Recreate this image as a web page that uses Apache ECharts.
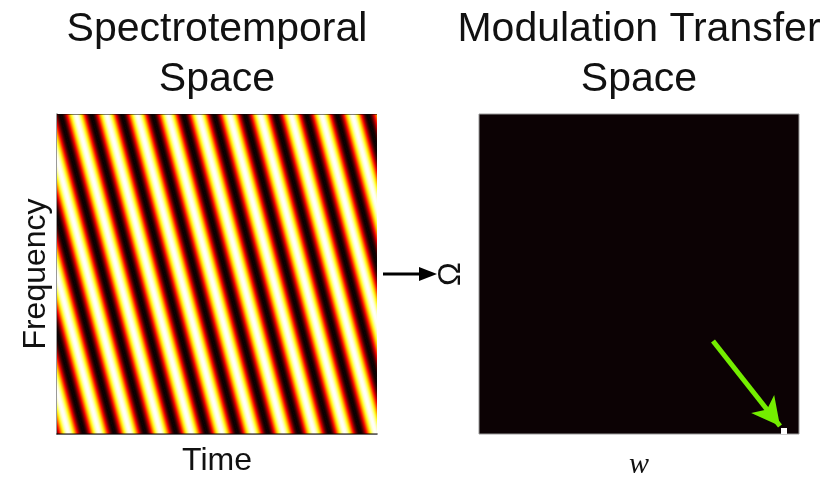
<!DOCTYPE html>
<html><head><meta charset="utf-8">
<script src="https://cdn.jsdelivr.net/npm/echarts@6/dist/echarts.min.js"></script>
<style>html,body{margin:0;padding:0;background:#fff}#c{width:835px;height:479px}</style>
</head><body><div id="c"></div>
<script>
// ---- Left panel: bright ridges of the ripple (Time and Frequency axes, 0-100 units)
const ridgeTimeAtTop    = [-22.9, -13.3, -3.7, 5.9, 15.5, 25.1, 34.7, 44.3, 53.9, 63.5, 73.1, 82.7, 92.3, 101.9];
const ridgeTimeAtBottom = [3.6, 13.2, 22.8, 32.4, 42.0, 51.6, 61.2, 70.8, 80.4, 90.0, 99.6, 109.2, 118.8, 128.4];
const ridgePeriod = 9.6;
// ---- Right panel: modulation transfer space (w and Omega axes, 0-64 units)
const mtfPeakW = [60.4];
const mtfPeakOmega = [0];
const mtfPeakValue = [1];
const mtfPeakSize = 1.2;
const greenArrowFrom = [46.8, 18.6];
const greenArrowTo = [60.2, 1.6];
// ---- Text
const panelTitles = ['Spectrotemporal\nSpace', 'Modulation Transfer\nSpace'];
const axisNames = { time: 'Time', freq: 'Frequency', w: 'w', omega: 'Ω' };

// "hot" colour profile across one period (black -> red -> yellow -> white -> ... -> black)
const hotStops = [
  [0.00, '#0a0000'], [0.05, '#150000'], [0.10, '#430000'], [0.15, '#900000'],
  [0.20, '#f10000'], [0.25, '#ff5a00'], [0.30, '#ffc200'], [0.35, '#ffff30'],
  [0.40, '#ffffa0'], [0.45, '#ffffe7'], [0.50, '#ffffff']
];
const gradStops = hotStops.map(s => ({offset: s[0], color: s[1]}))
  .concat(hotStops.slice(0, -1).reverse().map(s => ({offset: 1 - s[0], color: s[1]})));

const sans = '"Liberation Sans", Arial, Helvetica, sans-serif';
const chart = echarts.init(document.getElementById('c'), null, {renderer: 'canvas'});

const hiddenAxis = {show: true, axisTick: {show: false}, axisLabel: {show: false}, splitLine: {show: false}};

chart.setOption({
  animation: false,
  backgroundColor: '#ffffff',
  title: [
    {text: panelTitles[0], left: 217, top: 5, padding: 0, textAlign: 'center',
     textStyle: {fontFamily: sans, fontSize: 41, fontWeight: 'normal', color: '#111', lineHeight: 50}},
    {text: panelTitles[1], left: 639, top: 5, padding: 0, textAlign: 'center',
     textStyle: {fontFamily: sans, fontSize: 41, fontWeight: 'normal', color: '#111', lineHeight: 50}}
  ],
  grid: [
    {left: 57, top: 114, width: 320, height: 320, outerBoundsMode: 'none', containLabel: false},
    {left: 479, top: 114, width: 320, height: 320, outerBoundsMode: 'none', containLabel: false,
     show: true, backgroundColor: '#0c0204', borderColor: '#9a9a9a', borderWidth: 1}
  ],
  xAxis: [
    Object.assign({}, hiddenAxis, {gridIndex: 0, type: 'value', min: 0, max: 100,
      axisLine: {show: true, lineStyle: {color: '#333', width: 1.5}},
      name: axisNames.time, nameLocation: 'middle', nameGap: 11,
      nameTextStyle: {fontFamily: sans, fontSize: 32, color: '#111'}}),
    Object.assign({}, hiddenAxis, {gridIndex: 1, type: 'value', min: 0, max: 64,
      axisLine: {show: false},
      name: axisNames.w, nameLocation: 'middle', nameGap: 16,
      nameTextStyle: {fontFamily: '"Liberation Serif", "Times New Roman", serif', fontStyle: 'italic', fontSize: 30, color: '#111'}})
  ],
  yAxis: [
    Object.assign({}, hiddenAxis, {gridIndex: 0, type: 'value', min: 0, max: 100,
      axisLine: {show: true, lineStyle: {color: '#777', width: 1.5}},
      name: axisNames.freq, nameLocation: 'middle', nameGap: 5,
      nameTextStyle: {fontFamily: sans, fontSize: 32, color: '#111'}}),
    Object.assign({}, hiddenAxis, {gridIndex: 1, type: 'value', min: 0, max: 64,
      axisLine: {show: false},
      name: axisNames.omega, nameLocation: 'middle', nameGap: 12,
      nameTextStyle: {fontFamily: sans, fontSize: 32, color: '#111'}})
  ],
  series: [
    {
      type: 'custom', xAxisIndex: 0, yAxisIndex: 0, clip: true, silent: true,
      data: ridgeTimeAtTop.map((t, i) => [t, ridgeTimeAtBottom[i]]),
      renderItem: function (params, api) {
        const top = api.value(0), bot = api.value(1), h = ridgePeriod / 2;
        const pTL = api.coord([top - h, 100]), pTR = api.coord([top + h, 100]);
        const pBR = api.coord([bot + h, 0]), pBL = api.coord([bot - h, 0]);
        const dx = pBL[0] - pTL[0], dy = pBL[1] - pTL[1];
        const len = Math.hypot(dx, dy);
        const nx = dy / len, ny = -dx / len;
        const pw = (pTR[0] - pTL[0]) * nx;
        const grad = new echarts.graphic.LinearGradient(pTL[0], pTL[1], pTL[0] + nx * pw, pTL[1] + ny * pw, gradStops, true);
        return {type: 'polygon', shape: {points: [pTL, pTR, pBR, pBL]},
          style: {fill: grad, stroke: '#0a0000', lineWidth: 0.6}};
      }
    },
    {
      type: 'custom', xAxisIndex: 1, yAxisIndex: 1, clip: true, silent: true,
      data: mtfPeakW.map((w, i) => [w, mtfPeakOmega[i], mtfPeakValue[i]]),
      renderItem: function (params, api) {
        const p0 = api.coord([api.value(0), api.value(1) + mtfPeakSize]);
        const p1 = api.coord([api.value(0) + mtfPeakSize, api.value(1)]);
        const v = api.value(2);
        return {type: 'rect', shape: {x: p0[0], y: p0[1], width: p1[0] - p0[0], height: p1[1] - p0[1]},
          style: {fill: v >= 1 ? '#ffffff' : '#0c0204'}};
      }
    },
    {
      type: 'line', xAxisIndex: 1, yAxisIndex: 1, data: [], silent: true,
      markLine: {
        silent: true, symbol: ['none', 'arrow'], symbolSize: [22, 28],
        label: {show: false},
        lineStyle: {color: '#74ee00', width: 5, type: 'solid'},
        emphasis: {disabled: true},
        data: [[{coord: greenArrowFrom}, {coord: greenArrowTo}]]
      }
    }
  ]
});

// black arrow between the panels (annotation placed from the grid geometry)
const a = chart.convertToPixel({gridIndex: 0}, [100, 50]);
const b = chart.convertToPixel({gridIndex: 1}, [0, 32]);
const x0 = a[0] + 6, tip = b[0] - 42, y = a[1];
chart.setOption({
  graphic: [
    {type: 'line', shape: {x1: x0, y1: y, x2: tip - 12, y2: y}, style: {stroke: '#000', lineWidth: 3}},
    {type: 'polygon', shape: {points: [[tip - 18, y - 7], [tip, y], [tip - 18, y + 7]]}, style: {fill: '#000'}}
  ]
});
</script></body></html>
